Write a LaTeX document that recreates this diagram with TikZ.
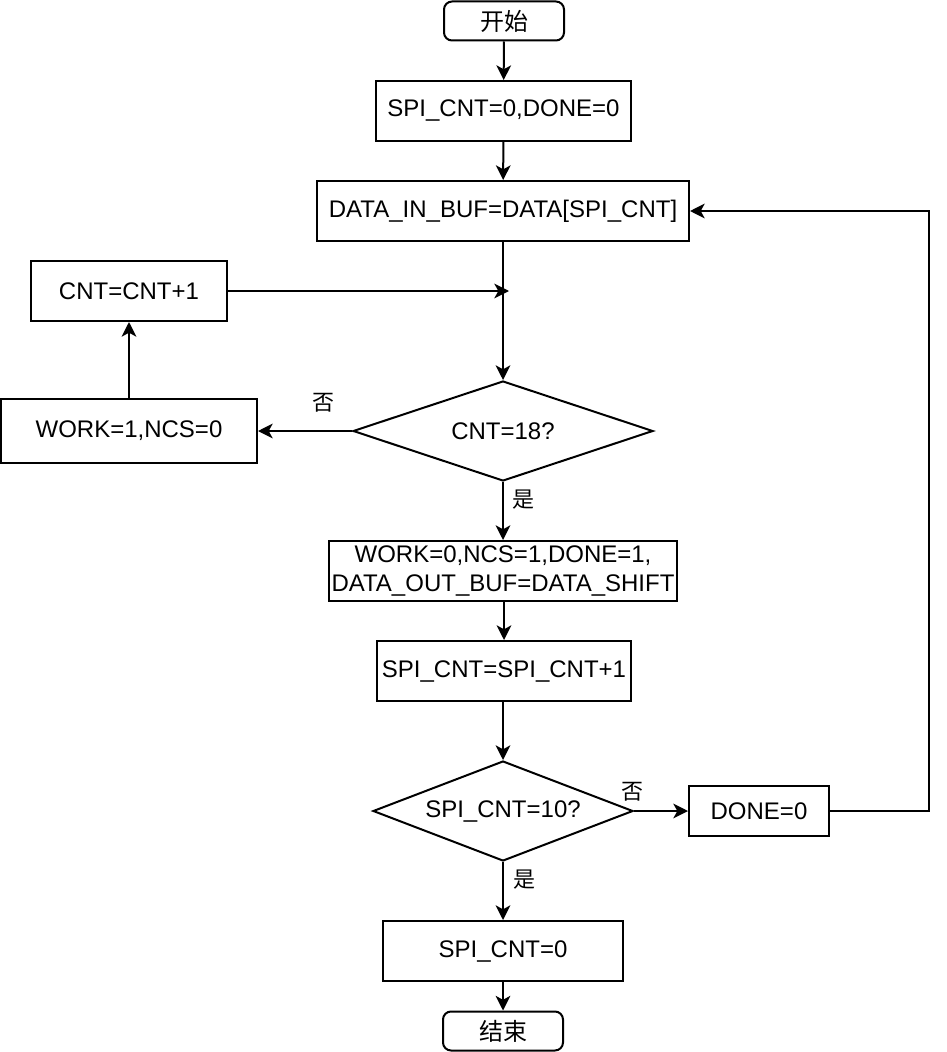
\documentclass[tikz,border=0pt]{standalone}
\usepackage{fontspec}
\setmainfont{Liberation Sans}
\newfontfamily\cjk{Noto Sans CJK SC}
\usetikzlibrary{shapes.geometric,arrows.meta}
\begin{document}
\begin{tikzpicture}[x=0.75pt,y=-0.75pt,
  every node/.style={font=\fontsize{18}{21.75}\selectfont},
  box/.style={draw,line width=1.5pt,inner sep=0pt,align=center},
  term/.style={box,rounded corners=6pt},
  dec/.style={draw,line width=1.5pt,diamond,inner sep=0pt,shape aspect=3},
  lbl/.style={font=\cjk\fontsize{16.5}{18}\selectfont,inner sep=0pt},
  conn/.style={line width=1.5pt,-{Stealth[length=11pt,width=11pt,inset=3pt]}},
  plain/.style={line width=1.5pt}]
\useasboundingbox (0,0) rectangle (946,1052);
\node[term,minimum width=90pt,minimum height=29.25pt] (start) at (504,21) {\cjk 开始};
\node[box,minimum width=191.25pt,minimum height=45pt] (init) at (503.5,111) {SPI\_CNT=0,DONE=0};
\node[box,minimum width=279pt,minimum height=45pt] (buf) at (503,211) {DATA\_IN\_BUF=DATA[SPI\_CNT]};
\node[box,minimum width=147pt,minimum height=45pt] (inc) at (129,291) {CNT=CNT+1};
\coordinate (j) at (509,291);
\node[dec,minimum width=225pt,minimum height=75pt] (d1) at (503,431) {CNT=18?};
\node[box,minimum width=192pt,minimum height=48pt] (work1) at (129,431) {WORK=1,NCS=0};
\node[box,minimum width=261pt,minimum height=45pt] (work0) at (503,571) {WORK=0,NCS=1,DONE=1,\\DATA\_OUT\_BUF=DATA\_SHIFT};
\node[box,minimum width=190.5pt,minimum height=45pt] (spiinc) at (504,671) {SPI\_CNT=SPI\_CNT+1};
\node[dec,minimum width=195pt,minimum height=75pt] (d2) at (503,811) {SPI\_CNT=10?};
\node[box,minimum width=105pt,minimum height=37.5pt] (done0) at (759,811) {DONE=0};
\node[box,minimum width=180pt,minimum height=45pt] (spi0) at (503,951) {SPI\_CNT=0};
\node[term,minimum width=90pt,minimum height=29.25pt] (end) at (503,1031) {\cjk 结束};
\coordinate (r1) at (929,811);
\coordinate (r2) at (929,211);
\node[lbl] (no1) at (323,403) {否};
\node[lbl] (yes1) at (523,500) {是};
\node[lbl] (no2) at (632,792) {否};
\node[lbl] (yes2) at (524,880) {是};
\draw[conn] (start) -- (init);
\draw[conn] (init) -- (buf);
\draw[conn] (buf) -- (d1);
\draw[conn] (inc) -- (j);
\draw[conn] (d1.west) -- (work1);
\draw[conn] (work1) -- (inc);
\draw[conn] (d1) -- (work0);
\draw[conn] (work0.south -| spiinc.north) -- (spiinc);
\draw[conn] (spiinc.south -| d2.north) -- (d2);
\draw[conn] (d2.east) -- (done0);
\draw[conn] (done0) -- (r1) -- (r2) -- (buf.east);
\draw[conn] (d2) -- (spi0);
\draw[conn] (spi0) -- (end);
\end{tikzpicture}
\end{document}
